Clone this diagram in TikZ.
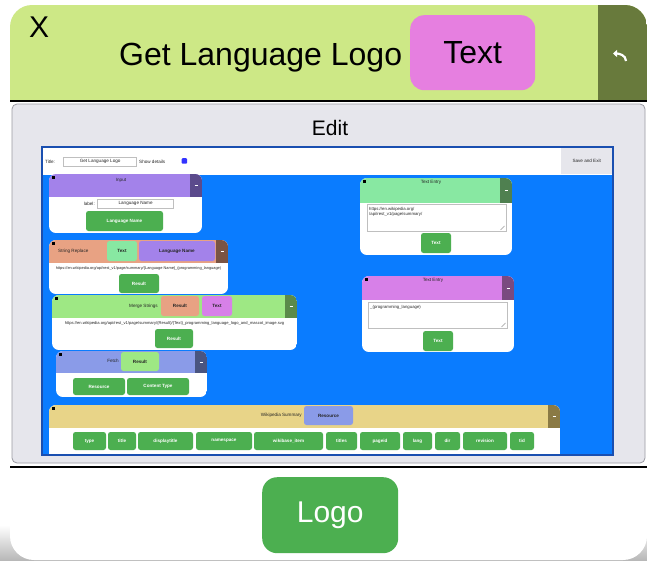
\documentclass[tikz,border=0pt]{standalone}
\usepackage{fontspec}
\setmainfont{Liberation Sans}
\usetikzlibrary{arrows.meta}

\definecolor{hdrgreen}{HTML}{CDE886}
\definecolor{olive}{HTML}{687A3C}
\definecolor{pinkbtn}{HTML}{E67FE0}
\definecolor{panelgray}{HTML}{E6E6EC}
\definecolor{panelline}{HTML}{9A9AA2}
\definecolor{blueback}{HTML}{0A7CFF}
\definecolor{blueedge}{HTML}{1A4FB0}
\definecolor{bgreen}{HTML}{4CAF50}
\definecolor{purphead}{HTML}{A382EA}
\definecolor{purptab}{HTML}{5B4A8C}
\definecolor{orghead}{HTML}{E8A283}
\definecolor{orgtab}{HTML}{7A5444}
\definecolor{lgrhead}{HTML}{9EE884}
\definecolor{lgrtab}{HTML}{5B8A4A}
\definecolor{slathead}{HTML}{8A9BE8}
\definecolor{slattab}{HTML}{4A5580}
\definecolor{tanhead}{HTML}{E8D488}
\definecolor{tantab}{HTML}{8A7A45}
\definecolor{minthead}{HTML}{88E8A2}
\definecolor{minttab}{HTML}{4F8050}
\definecolor{violhead}{HTML}{D780E8}
\definecolor{violtab}{HTML}{7A4A80}

\tikzset{
  gbtn/.style={fill=bgreen, text=white, rounded corners=2.5pt, inner sep=0pt, outer sep=0pt,
    font=\fontsize{4.6}{5}\selectfont\bfseries},
  cbtn/.style={fill=#1, text=black!85, rounded corners=2.5pt, inner sep=0pt, outer sep=0pt,
    font=\fontsize{4.6}{5}\selectfont\bfseries},
  tiny/.style={inner sep=0pt, text=black!85, font=\fontsize{4.6}{5}\selectfont},
  fieldbox/.style={draw=black!25, fill=white, line width=0.4pt, inner sep=0pt, outer sep=0pt},
}

% box node placed by its pixel corners: name, x1, y1, x2, y2, style, text
\newcommand\pbox[7]{%
  \node[#6, anchor=north west, minimum width={(#4-(#2))*1pt},
        minimum height={(#5-(#3))*1pt}] (#1) at (#2,#3) {#7};}

% a workflow block: x1, y1, header bottom, y2, x2, header colour, tab colour
\newcommand\blockbox[7]{%
  \begin{scope}
    \clip[rounded corners=7pt] (#1,#2) rectangle (#5,#4);
    \fill[white] (#1,#2) rectangle (#5,#4);
    \fill[#6] (#1,#2) rectangle (#5,#3);
    \fill[#7] (#5-12,#2) rectangle (#5,#3);
  \end{scope}
  \fill[black] (#1+3,#2+2) rectangle (#1+5.5,#2+4.5);
  \draw[white, line width=0.8pt] (#5-7.5,{(#2+#3)/2}) -- (#5-4.5,{(#2+#3)/2});}

\begin{document}
\begin{tikzpicture}[x=1pt, y=-1pt]
\useasboundingbox (0,0) rectangle (647,560);
\fill[white] (0,0) rectangle (647,560);

% ---------- header bar ----------
\begin{scope}
  \clip[rounded corners=22pt] (10,5) rectangle (647,140);
  \fill[hdrgreen] (10,5) rectangle (647,101);
  \fill[olive] (598,5) rectangle (647,101);
\end{scope}
\node[anchor=base west, inner sep=0pt, font=\fontsize{30}{30}\selectfont] (close) at (29,37) {X};
\node[anchor=base west, inner sep=0pt, font=\fontsize{32}{32}\selectfont] (title) at (119,65) {Get Language Logo};
\pbox{textbtn}{410}{15}{535}{90}{fill=pinkbtn, rounded corners=14pt, inner sep=0pt, font=\fontsize{32}{32}\selectfont}{Text}
\coordinate (backA) at (626,61);
\coordinate (backB) at (613,53.5);
\draw[white, line width=2.2pt, -{Triangle[length=4pt,width=7pt]}]
  (backA) to[out=90, in=0] (backB);
\draw[black, line width=2pt] (10,101) -- (647,101);

% ---------- edit panel ----------
\draw[fill=panelgray, draw=panelline, line width=0.8pt, rounded corners=5pt] (12,104) rectangle (645,463);
\node[anchor=base, inner sep=0pt, font=\fontsize{21}{21}\selectfont] (edit) at (330,135) {Edit};

\begin{scope}
\clip (42,147) rectangle (613,455);
% top bar of the workflow editor
\fill[white] (42,147) rectangle (613,175);
\node[tiny, anchor=west] (ttl) at (45,161.5) {Title:};
\pbox{ttlfield}{63}{157}{136}{166}{fieldbox, tiny, align=left}{\ Get Language Logo\hfill}
\node[tiny, anchor=west] (show) at (139,161.5) {Show details};
\pbox{check}{181.5}{158}{187}{163.5}{fill=blue!80, rounded corners=1pt, inner sep=0pt}{}
\pbox{save}{561}{148}{612}{174}{fill=panelgray, tiny}{Save and Exit}
\fill[blueback] (42,175) rectangle (613,455);

% Input block
\blockbox{49}{174}{197}{233}{202}{purphead}{purptab}
\node[tiny] (inhead) at (121,180) {Input};
\node[tiny, anchor=east] (inlab) at (95,203.5) {label:};
\pbox{infield}{97}{199}{173}{208}{fieldbox, tiny}{\ Language Name\hfill}
\pbox{inbtn}{86}{211}{163}{231}{gbtn}{Language Name}

% String replace block
\blockbox{49}{240}{263}{294}{228}{orghead}{orgtab}
\node[tiny, anchor=west] (srhead) at (58,251) {String Replace};
\pbox{srtext}{107}{241}{137}{261}{cbtn=minthead}{Text}
\pbox{srlang}{139}{241}{215}{261}{cbtn=purphead}{Language Name}
\node[tiny, font=\fontsize{3.9}{5}\selectfont] (srurl) at (138.5,268) {https://en.wikipedia.org/api/rest\_v1/page/summary/\{Language Name\}\_(programming\_language)};
\pbox{srres}{119}{274}{159}{293}{gbtn}{Result}

% Join block
\blockbox{52}{295}{318}{350}{297}{lgrhead}{lgrtab}
\node[tiny, anchor=east] (jnhead) at (158,306) {Merge Strings};
\pbox{jnres}{161}{296}{199}{316}{cbtn=orghead}{Result}
\pbox{jntext}{202}{296}{232}{316}{cbtn=violhead}{Text}
\node[tiny, font=\fontsize{4.1}{5}\selectfont] (jnurl) at (174.5,323) {https://en.wikipedia.org/api/rest\_v1/page/summary/\{Result\}/\{Text\}\_programming\_language\_logo\_and\_mascot\_image.svg};
\pbox{jnout}{155}{329}{193}{348}{gbtn}{Result}

% Fetch block
\blockbox{56}{351}{373}{397}{207}{slathead}{slattab}
\node[tiny, anchor=east] (fthead) at (119,361) {Fetch};
\pbox{ftres}{121}{352}{159}{371}{cbtn=lgrhead}{Result}
\pbox{ftrsc}{73}{378}{125}{395}{gbtn}{Resource}
\pbox{ftct}{127}{378}{189}{395}{gbtn}{Content Type}

% Parse block
\blockbox{49}{405}{428}{475}{560}{tanhead}{tantab}
\node[tiny, anchor=east] (pshead) at (302,415.5) {Wikipedia Summary};
\pbox{psrsc}{304}{406}{353}{425}{cbtn=slathead}{Resource}
\pbox{pf1}{73}{432}{106}{450}{gbtn}{type}
\pbox{pf2}{108}{432}{136}{450}{gbtn}{title}
\pbox{pf3}{138}{432}{193}{450}{gbtn}{displaytitle}
\pbox{pf4}{196}{432}{252}{450}{gbtn}{namespace}
\pbox{pf5}{254}{432}{323}{450}{gbtn}{wikibase\_item}
\pbox{pf6}{326}{432}{357}{450}{gbtn}{titles}
\pbox{pf7}{360}{432}{400}{450}{gbtn}{pageid}
\pbox{pf8}{403}{432}{432}{450}{gbtn}{lang}
\pbox{pf9}{435}{432}{460}{450}{gbtn}{dir}
\pbox{pf10}{463}{432}{507}{450}{gbtn}{revision}
\pbox{pf11}{510}{432}{534}{450}{gbtn}{tid}

% Text entry blocks
\blockbox{360}{178}{203}{255}{512}{minthead}{minttab}
\node[tiny] (te1head) at (431,182.5) {Text Entry};
\pbox{te1field}{367}{204}{506}{231}{fieldbox}{}
\node[tiny, anchor=north west, align=left, font=\fontsize{4.3}{5.6}\selectfont] (te1txt) at (369,207)
  {https://en.wikipedia.org/\\/api/rest\_v1/page/summary/};
\draw[black!40, line width=0.4pt] (te1field.south east) ++(-1.5,-5) -- ++(-4,4) ++(2,-2) -- ++(-2,2);
\pbox{te1btn}{421}{233}{451}{253}{gbtn}{Text}

\blockbox{362}{276}{300}{352}{514}{violhead}{violtab}
\node[tiny] (te2head) at (433,280.5) {Text Entry};
\pbox{te2field}{368}{302}{507}{328}{fieldbox}{}
\node[tiny, anchor=north west, font=\fontsize{4.3}{5.6}\selectfont] (te2txt) at (370,305)
  {\_(programming\_language)};
\draw[black!40, line width=0.4pt] (te2field.south east) ++(-1.5,-5) -- ++(-4,4) ++(2,-2) -- ++(-2,2);
\pbox{te2btn}{423}{331}{453}{351}{gbtn}{Text}
\end{scope}
\draw[blueedge, line width=1.2pt] (42,147) rectangle (613,455);

% ---------- bottom card ----------
\shade[top color=white, bottom color=black!28] (0,525) rectangle (647,560);
\fill[white, rounded corners=24pt] (10,467) rectangle (647,560);
\fill[white] (10,467) rectangle (647,500);
\draw[black, line width=2pt] (10,467) -- (647,467);
\pbox{logo}{262}{477}{398}{553}{fill=bgreen, text=white, rounded corners=15pt, inner sep=0pt, font=\fontsize{30}{30}\selectfont}{Logo}
\end{tikzpicture}
\end{document}
